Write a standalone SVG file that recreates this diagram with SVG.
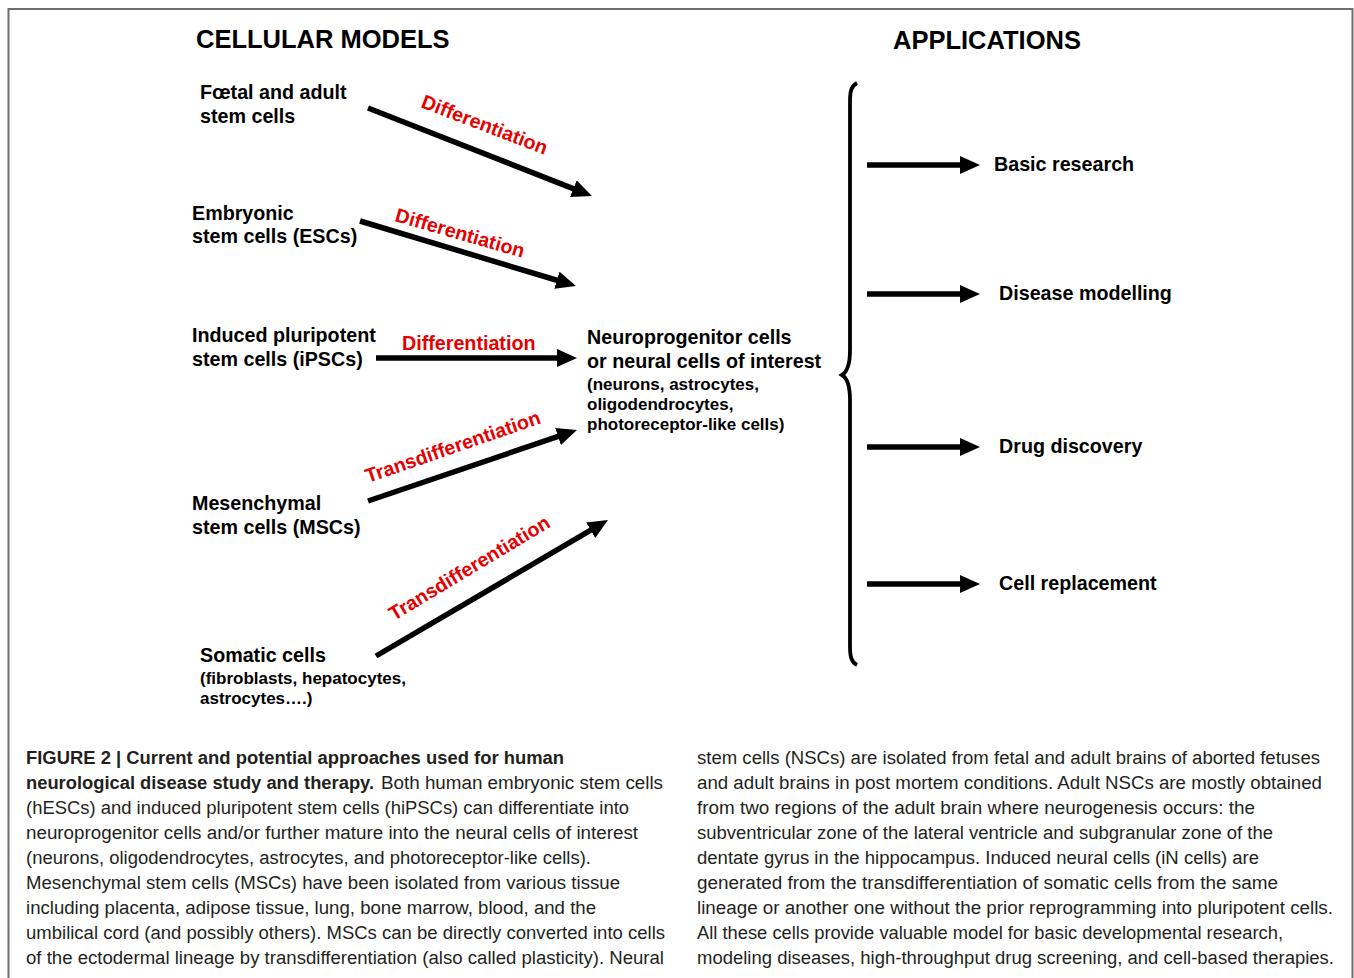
<svg xmlns="http://www.w3.org/2000/svg" width="1354" height="978" viewBox="0 0 1354 978">
<style>
.h{font-family:"Liberation Sans",Arial,sans-serif;font-weight:bold;font-size:25.5px;fill:#000}
.n{font-family:"Liberation Sans",Arial,sans-serif;font-weight:bold;font-size:19.7px;fill:#000}
.s{font-family:"Liberation Sans",Arial,sans-serif;font-weight:bold;font-size:17px;fill:#000}
.r{font-family:"Liberation Sans",Arial,sans-serif;font-weight:bold;font-size:19.7px;fill:#e60000}
.a{font-family:"Liberation Sans",Arial,sans-serif;font-weight:bold;font-size:19.7px;fill:#000}
.c{font-family:"Liberation Sans",Arial,sans-serif;font-size:18px;fill:#231f20}
.cb{font-weight:bold}
.ar{stroke:#000;stroke-width:5.5;fill:none;marker-end:url(#head)}
</style>
<defs>
<marker id="head" markerUnits="userSpaceOnUse" viewBox="0 0 20 18" markerWidth="20" markerHeight="18" refX="8" refY="9" orient="auto">
<path d="M0,0 L20,9 L0,18 z" fill="#000"/>
</marker>
</defs>
<rect x="0" y="0" width="1354" height="978" fill="#fff"/>
<path d="M8.5,978 V9 H1352.5 V978" fill="none" stroke="#6e6e6e" stroke-width="2"/>

<g id="titles">
<text class="h" x="196" y="48">CELLULAR MODELS</text>
<text class="h" x="893" y="49">APPLICATIONS</text>
</g>

<g id="node-foetal"><text class="n" x="200" y="99">Fœtal and adult</text><text class="n" x="200" y="123">stem cells</text></g>
<g id="node-esc"><text class="n" x="192" y="220">Embryonic</text><text class="n" x="192" y="243">stem cells (ESCs)</text></g>
<g id="node-ipsc"><text class="n" x="192" y="342">Induced pluripotent</text><text class="n" x="192" y="366">stem cells (iPSCs)</text></g>
<g id="node-msc"><text class="n" x="192" y="510">Mesenchymal</text><text class="n" x="192" y="534">stem cells (MSCs)</text></g>
<g id="node-somatic"><text class="n" x="200" y="662">Somatic cells</text><text class="s" x="200" y="684">(fibroblasts, hepatocytes,</text><text class="s" x="200" y="704">astrocytes….)</text></g>
<g id="node-neural"><text class="n" x="587" y="344">Neuroprogenitor cells</text><text class="n" x="587" y="368">or neural cells of interest</text><text class="s" x="587" y="390">(neurons, astrocytes,</text><text class="s" x="587" y="410">oligodendrocytes,</text><text class="s" x="587" y="430">photoreceptor-like cells)</text></g>

<g id="node-basic"><text class="a" x="994" y="171">Basic research</text></g>
<g id="node-disease"><text class="a" x="999" y="300">Disease modelling</text></g>
<g id="node-drug"><text class="a" x="999" y="453">Drug discovery</text></g>
<g id="node-cell"><text class="a" x="999" y="590">Cell replacement</text></g>

<g id="connectors">
<line class="ar" x1="368" y1="108" x2="580.8" y2="191.6"/>
<line class="ar" x1="360" y1="221" x2="564.5" y2="282.5"/>
<line class="ar" x1="376" y1="358" x2="565" y2="358"/>
<line class="ar" x1="368" y1="501" x2="565.6" y2="433.9"/>
<line class="ar" x1="376" y1="656" x2="597.6" y2="526.1"/>
<line class="ar" x1="867" y1="165" x2="968" y2="165"/>
<line class="ar" x1="867" y1="294" x2="968" y2="294"/>
<line class="ar" x1="867" y1="447" x2="968" y2="447"/>
<line class="ar" x1="867" y1="584" x2="968" y2="584"/>
<path d="M857,83 C851,86 850,92 850,102 V350 C850,366 847,372 842,375 C847,378 850,384 850,400 V646 C850,656 851,662 857,665" fill="none" stroke="#000" stroke-width="3.8"/>
<text class="r" transform="translate(420,107) rotate(21)">Differentiation</text>
<text class="r" transform="translate(394,221) rotate(16)">Differentiation</text>
<text class="r" x="402" y="350">Differentiation</text>
<text class="r" transform="translate(368,483) rotate(-19)">Transdifferentiation</text>
<text class="r" transform="translate(394,621) rotate(-31)">Transdifferentiation</text>
</g>

<g id="caption">
<text class="c" y="764"><tspan class="cb" x="26" textLength="538" lengthAdjust="spacingAndGlyphs">FIGURE 2 | Current and potential approaches used for human</tspan></text>
<text class="c" y="789"><tspan class="cb" x="26" textLength="348" lengthAdjust="spacingAndGlyphs">neurological disease study and therapy.</tspan><tspan x="381" textLength="282" lengthAdjust="spacingAndGlyphs">Both human embryonic stem cells</tspan></text>
<text class="c" x="26" y="814" textLength="603" lengthAdjust="spacingAndGlyphs">(hESCs) and induced pluripotent stem cells (hiPSCs) can differentiate into</text>
<text class="c" x="26" y="839" textLength="612" lengthAdjust="spacingAndGlyphs">neuroprogenitor cells and/or further mature into the neural cells of interest</text>
<text class="c" x="26" y="864" textLength="565" lengthAdjust="spacingAndGlyphs">(neurons, oligodendrocytes, astrocytes, and photoreceptor-like cells).</text>
<text class="c" x="26" y="889" textLength="594" lengthAdjust="spacingAndGlyphs">Mesenchymal stem cells (MSCs) have been isolated from various tissue</text>
<text class="c" x="26" y="914" textLength="570" lengthAdjust="spacingAndGlyphs">including placenta, adipose tissue, lung, bone marrow, blood, and the</text>
<text class="c" x="26" y="939" textLength="639" lengthAdjust="spacingAndGlyphs">umbilical cord (and possibly others). MSCs can be directly converted into cells</text>
<text class="c" x="26" y="964" textLength="638" lengthAdjust="spacingAndGlyphs">of the ectodermal lineage by transdifferentiation (also called plasticity). Neural</text>
<text class="c" x="697" y="764" textLength="623" lengthAdjust="spacingAndGlyphs">stem cells (NSCs) are isolated from fetal and adult brains of aborted fetuses</text>
<text class="c" x="697" y="789" textLength="625" lengthAdjust="spacingAndGlyphs">and adult brains in post mortem conditions. Adult NSCs are mostly obtained</text>
<text class="c" x="697" y="814" textLength="558" lengthAdjust="spacingAndGlyphs">from two regions of the adult brain where neurogenesis occurs: the</text>
<text class="c" x="697" y="839" textLength="576" lengthAdjust="spacingAndGlyphs">subventricular zone of the lateral ventricle and subgranular zone of the</text>
<text class="c" x="697" y="864" textLength="562" lengthAdjust="spacingAndGlyphs">dentate gyrus in the hippocampus. Induced neural cells (iN cells) are</text>
<text class="c" x="697" y="889" textLength="581" lengthAdjust="spacingAndGlyphs">generated from the transdifferentiation of somatic cells from the same</text>
<text class="c" x="697" y="914" textLength="636" lengthAdjust="spacingAndGlyphs">lineage or another one without the prior reprogramming into pluripotent cells.</text>
<text class="c" x="697" y="939" textLength="586" lengthAdjust="spacingAndGlyphs">All these cells provide valuable model for basic developmental research,</text>
<text class="c" x="697" y="964" textLength="637" lengthAdjust="spacingAndGlyphs">modeling diseases, high-throughput drug screening, and cell-based therapies.</text>
</g>
</svg>
